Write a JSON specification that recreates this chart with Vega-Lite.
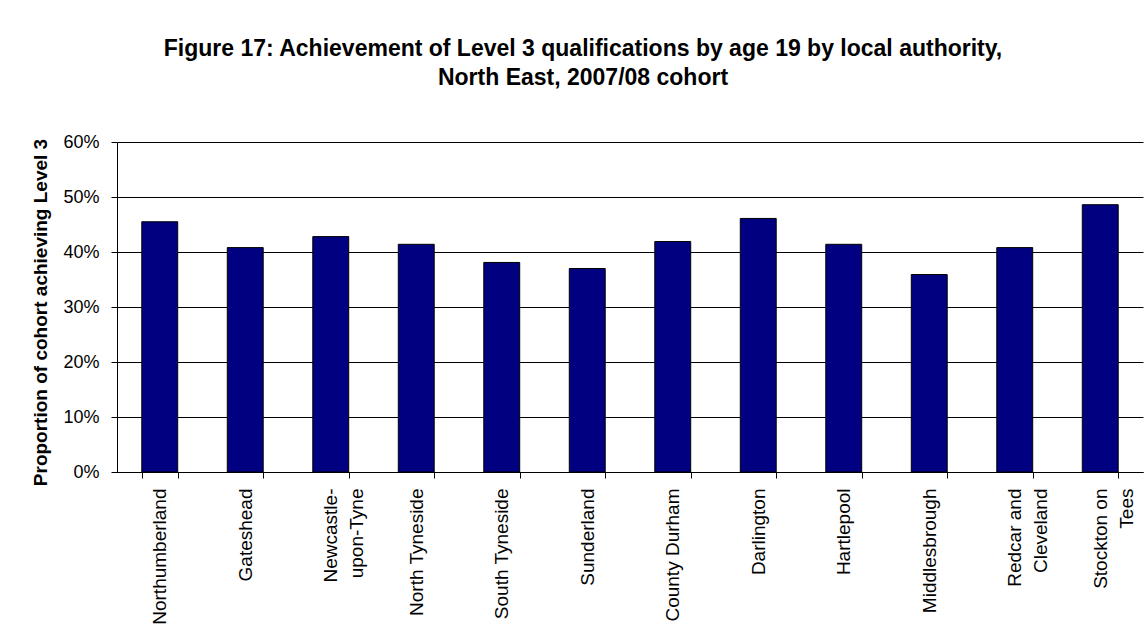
{
  "$schema": "https://vega.github.io/schema/vega-lite/v6.json",
  "autosize": {"type": "none"},
  "padding": {"left": 117, "top": 142, "right": 4, "bottom": 164},
  "width": 1026,
  "height": 330,
  "background": "white",
  "title": {
    "text": ["Figure 17: Achievement of Level 3 qualifications by age 19 by local authority,", "North East, 2007/08 cohort"],
    "font": "Liberation Sans",
    "fontSize": 23,
    "fontWeight": "bold",
    "color": "black",
    "lineHeight": 29,
    "anchor": "middle",
    "frame": "group",
    "dx": -47,
    "offset": 43
  },
  "data": {
    "values": [
      {"authority": "Northumberland", "value": 0.455},
      {"authority": "Gateshead", "value": 0.408},
      {"authority": "Newcastle-upon-Tyne", "value": 0.428},
      {"authority": "North Tyneside", "value": 0.414},
      {"authority": "South Tyneside", "value": 0.381},
      {"authority": "Sunderland", "value": 0.370},
      {"authority": "County Durham", "value": 0.419},
      {"authority": "Darlington", "value": 0.461},
      {"authority": "Hartlepool", "value": 0.414},
      {"authority": "Middlesbrough", "value": 0.359},
      {"authority": "Redcar and Cleveland", "value": 0.408},
      {"authority": "Stockton on Tees", "value": 0.486}
    ]
  },
  "mark": {"type": "bar", "fill": "#000080", "stroke": "black", "strokeWidth": 1},
  "encoding": {
    "x": {
      "field": "authority",
      "type": "nominal",
      "sort": null,
      "scale": {"paddingInner": 0.58, "paddingOuter": 0.29},
      "axis": {
        "title": null,
        "tickBand": "extent",
        "labelAngle": 270,
        "labelAlign": "right",
        "labelBaseline": "middle",
        "labelFont": "Liberation Sans",
        "labelFontSize": 19,
        "labelColor": "black",
        "labelPadding": 10,
        "labelLineHeight": 26,
        "labelExpr": "datum.value == 'Newcastle-upon-Tyne' ? ['Newcastle-', 'upon-Tyne'] : datum.value == 'Redcar and Cleveland' ? ['Redcar and', 'Cleveland'] : datum.value == 'Stockton on Tees' ? ['Stockton on', 'Tees'] : datum.label",
        "tickSize": 6,
        "tickColor": "black",
        "domainColor": "black",
        "labelOverlap": false,
        "grid": false
      }
    },
    "y": {
      "field": "value",
      "type": "quantitative",
      "scale": {"domain": [0, 0.6]},
      "axis": {
        "title": "Proportion of cohort achieving Level 3",
        "titleFont": "Liberation Sans",
        "titleFontSize": 19,
        "titleFontWeight": "bold",
        "titleColor": "black",
        "titlePadding": 12,
        "titleY": 170,
        "values": [0, 0.1, 0.2, 0.3, 0.4, 0.5, 0.6],
        "format": ".0%",
        "labelFont": "Liberation Sans",
        "labelFontSize": 18,
        "labelColor": "black",
        "labelPadding": 12,
        "tickSize": 6,
        "tickColor": "black",
        "domainColor": "black",
        "grid": true,
        "gridColor": "black",
        "gridOpacity": 1
      }
    }
  },
  "config": {"view": {"stroke": null}}
}
